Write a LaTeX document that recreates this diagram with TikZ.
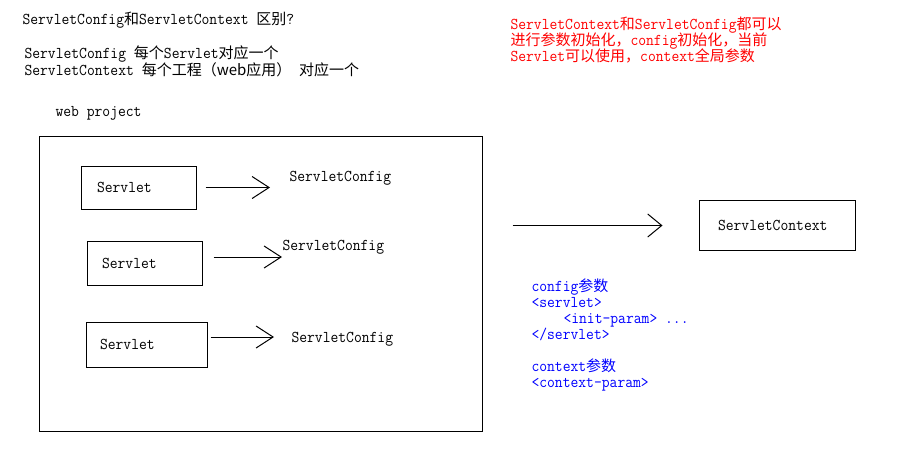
\documentclass[tikz,border=0pt]{standalone}
\usepackage{fontspec}
\setmonofont{Latin Modern Mono}[FakeStretch=0.92]
\newfontfamily\cjkfont{Noto Sans CJK SC}
\usetikzlibrary{arrows.meta}
\newcommand\zh[1]{{\fontsize{15}{20}\selectfont\cjkfont #1}}

\begin{document}
\begin{tikzpicture}[x=1pt,y=-1pt,line width=1pt,
  every node/.style={font=\ttfamily\fontsize{16.5}{20}\selectfont},
  txt/.style={anchor=base west,inner sep=0pt},
  box/.style 2 args={draw,inner xsep=#1,text width=#2,align=left},
  arr/.style={-{Straight Barb[length=17pt,width=22pt]}},
  bigarr/.style={-{Straight Barb[length=14pt,width=23pt]}}]
  \useasboundingbox (0,0) rectangle (902,448);

  \node[txt] (title) at (22,24) {ServletConfig\zh{和}ServletContext \zh{区别}?};
  \node[txt] (cfgline) at (24,58) {ServletConfig \zh{每个}Servlet\zh{对应一个}};
  \node[txt] (ctxline) at (24,75) {ServletContext \zh{每个工程（web应用）} \zh{对应一个}};
  \node[txt] (webtitle) at (55,116) {web project};

  \node[txt,red] (note1) at (510,29) {ServletContext\zh{和}ServletConfig\zh{都可以}};
  \node[txt,red] (note2) at (510,45) {\zh{进行参数初始化，}config\zh{初始化，当前}};
  \node[txt,red] (note3) at (510,61) {Servlet\zh{可以使用，}context\zh{全局参数}};

  \node[draw,minimum width=443pt,minimum height=295pt,inner sep=0pt] (web) at (260.5,283.5) {};

  \node[box={16pt}{83pt},minimum height=43pt] (s1) at (138.5,187.5) {Servlet};
  \node[box={15pt}{85pt},minimum height=44pt] (s2) at (144.5,263) {Servlet};
  \node[box={14pt}{93pt},minimum height=45pt] (s3) at (146.5,344.5) {Servlet};

  \node[txt] (c1) at (289,181) {ServletConfig};
  \node[txt] (c2) at (282,250) {ServletConfig};
  \node[txt] (c3) at (291,342) {ServletConfig};

  \node[box={19pt}{118pt},minimum height=50pt] (ctx) at (777,225.5) {ServletContext};

  \node[txt,blue] (p1) at (531,291) {config\zh{参数}};
  \node[txt,blue] (p2) at (531,307) {<servlet>};
  \node[txt,blue] (p3) at (563,323) {<init-param> ...};
  \node[txt,blue] (p4) at (531,339) {</servlet>};
  \node[txt,blue] (p5) at (531,371) {context\zh{参数}};
  \node[txt,blue] (p6) at (531,387) {<context-param>};

  \draw[arr,shorten <=9pt,shorten >=19pt] (s1.east) -- (s1.east -| c1.west);
  \draw[arr,shorten <=11pt] ([yshift=6pt]s2.east) -- ([yshift=6pt]s2.east -| c2.west);
  \draw[arr,shorten <=3pt,shorten >=17pt] ([yshift=7.5pt]s3.east) -- ([yshift=7.5pt]s3.east -| c3.west);
  \draw[bigarr,shorten <=30pt,shorten >=36pt] (web.east |- ctx.west) -- (ctx.west);
\end{tikzpicture}
\end{document}
